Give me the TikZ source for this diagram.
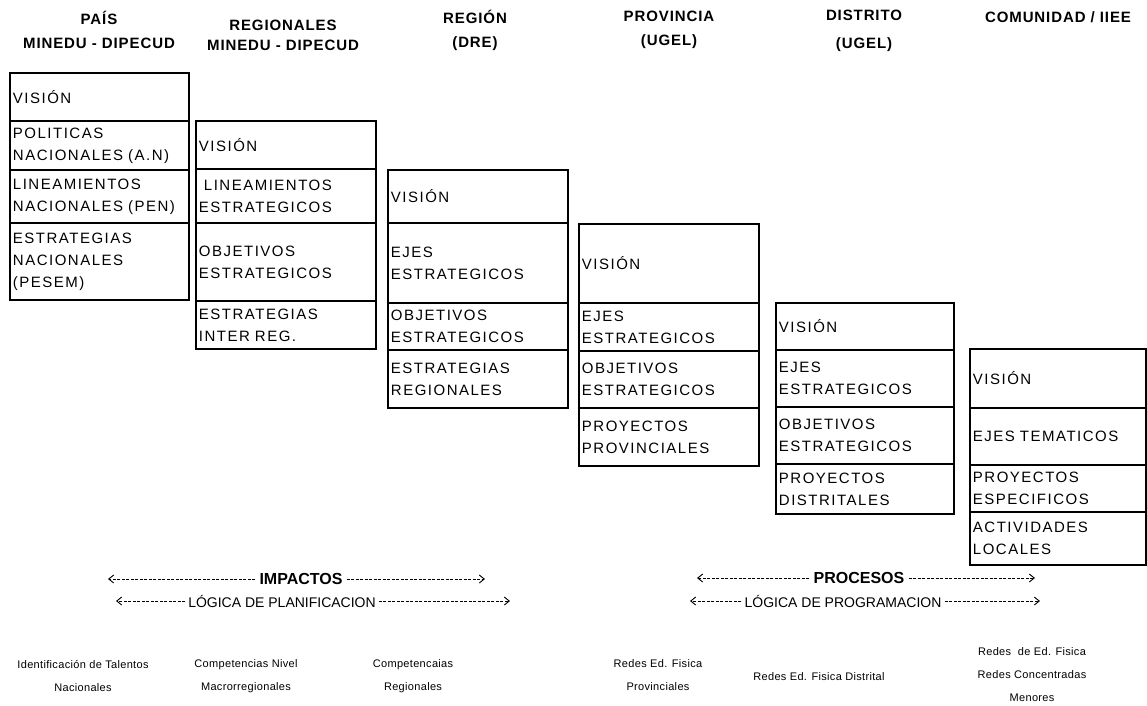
\documentclass[tikz,border=0pt]{standalone}
\usepackage{fontspec}
\setmainfont{Liberation Sans}
\newfontfamily\boxfont[LetterSpace=10]{Liberation Sans}
\newfontfamily\hdrfont[LetterSpace=6]{Liberation Sans}
\newfontfamily\footfont[LetterSpace=3]{Liberation Sans}
\usetikzlibrary{arrows.meta}
\tikzset{
  cell/.style={draw, line width=1.9pt, anchor=north west, inner xsep=3pt, inner ysep=0pt,
    align=left, font=\boxfont\fontsize{15}{22}\selectfont},
  hdr/.style={align=center, font=\hdrfont\bfseries\fontsize{15}{24}\selectfont},
  foot/.style={align=center, font=\footfont\fontsize{11}{23}\selectfont},
  biglab/.style={font=\bfseries\fontsize{16}{18}\selectfont, inner xsep=4pt},
  loglab/.style={font=\fontsize{14}{16}\selectfont, inner xsep=3pt},
  dl/.style={line width=0.9pt, dash pattern=on 3pt off 1.5pt, -{Straight Barb[length=5pt,width=8pt]}},
}
\newcommand\mycell[6]{\node[cell, text width=#5pt, minimum height=#4pt] (#1) at (#2,#3) {#6};}
\begin{document}
\begin{tikzpicture}[x=1pt,y=-1pt]
\useasboundingbox[fill=white] (0,0) rectangle (1147,705);
% headers
\node[hdr] (h1) at (99,30) {PAÍS\\MINEDU - DIPECUD};
\node[hdr, font=\hdrfont\bfseries\fontsize{15}{20}\selectfont] (h2) at (283,35) {REGIONALES\\MINEDU - DIPECUD};
\node[hdr] (h3) at (475,30) {REGIÓN\\(DRE)};
\node[hdr] (h4) at (669,30) {PROVINCIA\\(UGEL)};
\node[hdr, font=\hdrfont\bfseries\fontsize{15}{28}\selectfont] (h5) at (864,31) {DISTRITO\\(UGEL)};
\node[hdr] (h6) at (1058,17) {COMUNIDAD / IIEE};
% column 1
\mycell{c11}{9}{72}{48}{173}{VISIÓN}
\mycell{c12}{9}{120}{49}{173}{POLITICAS\\NACIONALES (A.N)}
\mycell{c13}{9}{169}{53}{173}{LINEAMIENTOS\\NACIONALES (PEN)}
\mycell{c14}{9}{222}{77}{173}{ESTRATEGIAS\\NACIONALES\\(PESEM)}
% column 2
\mycell{c21}{195}{120}{48}{174}{VISIÓN}
\mycell{c22}{195}{168}{54}{174}{\ LINEAMIENTOS\\ESTRATEGICOS}
\mycell{c23}{195}{222}{78}{174}{OBJETIVOS\\ESTRATEGICOS}
\mycell{c24}{195}{300}{48}{174}{ESTRATEGIAS\\INTER REG.}
% column 3
\mycell{c31}{387}{169}{53}{174}{VISIÓN}
\mycell{c32}{387}{222}{80}{174}{EJES\\ESTRATEGICOS}
\mycell{c33}{387}{302}{47}{174}{OBJETIVOS\\ESTRATEGICOS}
\mycell{c34}{387}{349}{58}{174}{ESTRATEGIAS\\REGIONALES}
% column 4
\mycell{c41}{578}{223}{79}{174}{VISIÓN}
\mycell{c42}{578}{302}{48}{174}{EJES\\ESTRATEGICOS}
\mycell{c43}{578}{350}{57}{174}{OBJETIVOS\\ESTRATEGICOS}
\mycell{c44}{578}{407}{58}{174}{PROYECTOS\\PROVINCIALES}
% column 5
\mycell{c51}{775}{302}{47}{172}{VISIÓN}
\mycell{c52}{775}{349}{57}{172}{EJES\\ESTRATEGICOS}
\mycell{c53}{775}{406}{57}{172}{OBJETIVOS\\ESTRATEGICOS}
\mycell{c54}{775}{463}{50}{172}{PROYECTOS\\DISTRITALES}
% column 6
\mycell{c61}{969}{348}{59}{170}{VISIÓN}
\mycell{c62}{969}{407}{57}{170}{EJES TEMATICOS}
\mycell{c63}{969}{464}{47}{170}{PROYECTOS\\ESPECIFICOS}
\mycell{c64}{969}{511}{53}{170}{ACTIVIDADES\\LOCALES}
% logic arrows
\node[biglab] (imp) at (301,579) {IMPACTOS};
\coordinate (impL) at (108,579);
\coordinate (impR) at (485,579);
\draw[dl] (imp.west) -- (impL);
\draw[dl] (imp.east) -- (impR);
\node[loglab] (logp) at (282,601) {LÓGICA DE PLANIFICACION};
\coordinate (logpL) at (116,601);
\coordinate (logpR) at (510,601);
\draw[dl] (logp.west) -- (logpL);
\draw[dl] (logp.east) -- (logpR);
\node[biglab] (proc) at (859,578) {PROCESOS};
\coordinate (procL) at (697,578);
\coordinate (procR) at (1035,578);
\draw[dl] (proc.west) -- (procL);
\draw[dl] (proc.east) -- (procR);
\node[loglab] (logr) at (843,601) {LÓGICA DE PROGRAMACION};
\coordinate (logrL) at (690,601);
\coordinate (logrR) at (1040,601);
\draw[dl] (logr.west) -- (logrL);
\draw[dl] (logr.east) -- (logrR);
% footer
\node[foot] (f1) at (83,676) {Identificación de Talentos\\Nacionales};
\node[foot] (f2) at (246,676) {Competencias Nivel\\Macrorregionales};
\node[foot] (f3) at (413,676) {Competencaias\\Regionales};
\node[foot] (f4) at (658,675) {Redes Ed. Fisica\\Provinciales};
\node[foot] (f5) at (819,677) {Redes Ed. Fisica Distrital};
\node[foot] (f6) at (1032,675) {Redes\ \ de Ed. Fisica\\Redes Concentradas\\Menores};
\end{tikzpicture}
\end{document}
